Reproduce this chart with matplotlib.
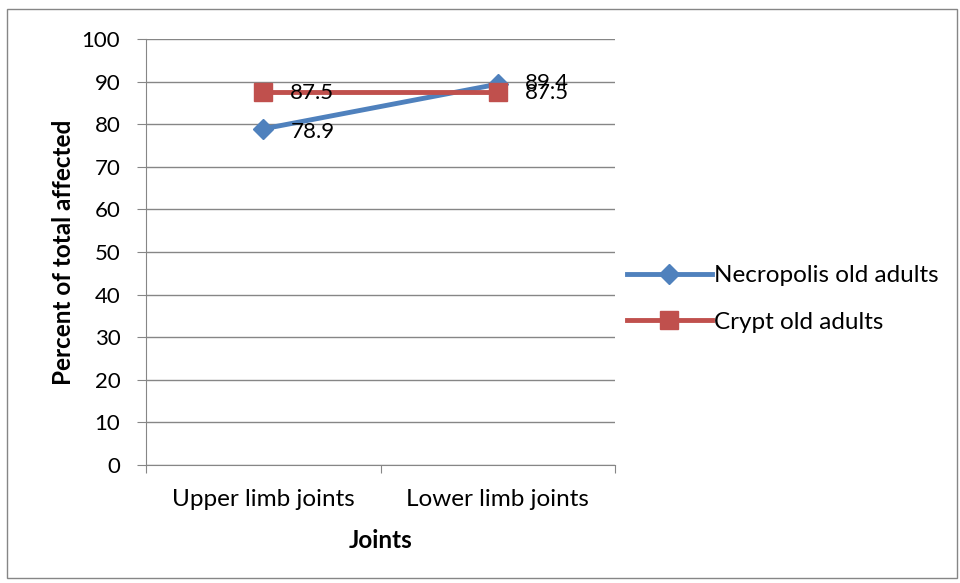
import matplotlib.pyplot as plt
from matplotlib.patches import Rectangle

categories = ["Upper limb joints", "Lower limb joints"]
necropolis = [78.9, 89.4]
crypt = [87.5, 87.5]

plt.rcParams['font.family'] = ['Lato', 'DejaVu Sans']

fig = plt.figure(figsize=(9.6, 5.83), dpi=100)
ax = fig.add_axes([146/960, 1 - 465/583, (615-146)/960, (465-39)/583])

xs = [0.5, 1.5]
ax.plot(xs, necropolis, color='#4F81BD', lw=3.5, marker='D', ms=10,
        label='Necropolis old adults', zorder=3)
ax.plot(xs, crypt, color='#C0504D', lw=3.5, marker='s', ms=13,
        label='Crypt old adults', zorder=4)

# data labels to the right of each point
for x, v in zip(xs, necropolis):
    off = -3 if v < 85 else 1
    ax.annotate(f"{v}", (x, v), xytext=(27, off), textcoords='offset pixels',
                ha='left', va='center', fontsize=16, zorder=5)
for x, v in zip(xs, crypt):
    ax.annotate(f"{v}", (x, v), xytext=(27, -1), textcoords='offset pixels',
                ha='left', va='center', fontsize=16, zorder=5)

ax.set_xlim(0, 2)
ax.set_ylim(0, 100)
ax.set_yticks(range(0, 101, 10))
ax.set_xticks([0, 1, 2])
ax.set_xticklabels([])
ax.set_xticks(xs, minor=True)
ax.set_xticklabels(categories, minor=True, fontsize=17.5)
ax.tick_params(axis='x', which='minor', length=0, pad=17)
ax.tick_params(axis='x', which='major', length=6, color='#868686', direction='out')
ax.tick_params(axis='y', length=6.5, color='#868686', labelsize=16, pad=12)
ax.grid(axis='y', color='#868686', lw=1)
ax.set_axisbelow(True)
for s in ['top', 'right']:
    ax.spines[s].set_visible(False)
for s in ['left', 'bottom']:
    ax.spines[s].set_color('#868686')

ax.set_ylabel('Percent of total affected', fontsize=17.5, fontweight='bold', labelpad=5)
ax.set_xlabel('Joints', fontsize=17.5, fontweight='bold', labelpad=14)

ax.legend(loc='center left', bbox_to_anchor=(605/960, 1 - 299/583),
          bbox_transform=fig.transFigure, frameon=False, fontsize=17.5,
          handlelength=3.5, handletextpad=0.1, labelspacing=1.05)

fig.patches.append(Rectangle((7/960, 5/583), 950/960, 569/583, transform=fig.transFigure,
                             fill=False, edgecolor='#868686', lw=1))

fig.savefig('out.png', dpi=100)
